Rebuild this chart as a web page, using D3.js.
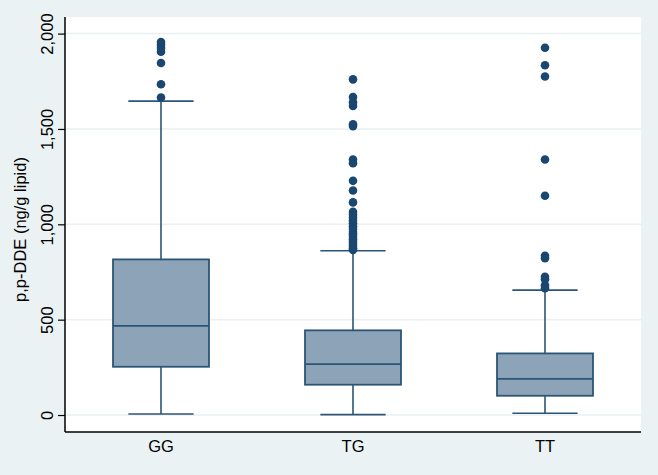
<!DOCTYPE html>
<html>
<head>
<meta charset="utf-8">
<script src="https://cdn.jsdelivr.net/npm/d3@7"></script>
<style>
  html, body { margin: 0; padding: 0; background: #eaf2f3; }
  svg { display: block; }
</style>
</head>
<body>
<svg id="chart" width="658" height="475"></svg>
<script>
const categories = ["GG", "TG", "TT"];
const q1 = [253, 159, 101];
const medians = [467, 267, 190];
const q3 = [816, 444, 323];
const whiskerLow = [5, 2, 9];
const whiskerHigh = [1646, 861, 655];
const outliersGG = [1956, 1940, 1925, 1905, 1846, 1734, 1665];
const outliersTG = [1760, 1667, 1640, 1620, 1525, 1515, 1340, 1320, 1228, 1177, 1115,
  1065, 1050, 1035, 1020, 1005, 990, 975, 960, 948, 935, 922, 910, 898, 886, 875, 866];
const outliersTT = [1926, 1834, 1775, 1340, 1150, 835, 822, 725, 712, 680, 665];
const outliers = [outliersGG, outliersTG, outliersTT];
const yTicks = [0, 500, 1000, 1500, 2000];
const yTitle = "p,p-DDE (ng/g lipid)";

const svg = d3.select("#chart");
const W = 658, H = 475;
const m = { left: 65, right: 17, top: 17, bottom: 43 };
const pw = W - m.left - m.right, ph = H - m.top - m.bottom;

const navy = "#1a476f";
const boxStroke = "#2b5577";
const boxFill = "#8da3b8";
const gridCol = "#e8f0f2";
const FONT = "'Liberation Sans', Arial, sans-serif";
const FS = 16.5;

svg.append("rect").attr("width", W).attr("height", H).attr("fill", "#eaf2f3");
const g = svg.append("g").attr("transform", `translate(${m.left},${m.top})`);
g.append("rect").attr("width", pw).attr("height", ph).attr("fill", "#ffffff");

const y = d3.scaleLinear().domain([-89, 2087]).range([ph, 0]);
const x = d3.scaleBand().domain(categories).range([0, pw]).paddingInner(0.5).paddingOuter(0.25);

// gridlines
g.append("g").selectAll("line").data(yTicks).join("line")
  .attr("x1", 0).attr("x2", pw)
  .attr("y1", d => y(d)).attr("y2", d => y(d))
  .attr("stroke", gridCol).attr("stroke-width", 1.5);

const data = categories.map((c, i) => ({
  c, q1: q1[i], med: medians[i], q3: q3[i], lo: whiskerLow[i], hi: whiskerHigh[i], out: outliers[i]
}));

const bw = x.bandwidth();
const capW = bw * 0.68;

const boxes = g.append("g").selectAll("g").data(data).join("g")
  .attr("transform", d => `translate(${x(d.c) + bw / 2},0)`);

// whiskers
boxes.append("line").attr("x1", 0).attr("x2", 0)
  .attr("y1", d => y(d.hi)).attr("y2", d => y(d.q3))
  .attr("stroke", boxStroke).attr("stroke-width", 1.6);
boxes.append("line").attr("x1", 0).attr("x2", 0)
  .attr("y1", d => y(d.q1)).attr("y2", d => y(d.lo))
  .attr("stroke", boxStroke).attr("stroke-width", 1.6);
boxes.append("line").attr("x1", -capW / 2).attr("x2", capW / 2)
  .attr("y1", d => y(d.hi)).attr("y2", d => y(d.hi))
  .attr("stroke", boxStroke).attr("stroke-width", 1.6);
boxes.append("line").attr("x1", -capW / 2).attr("x2", capW / 2)
  .attr("y1", d => y(d.lo)).attr("y2", d => y(d.lo))
  .attr("stroke", boxStroke).attr("stroke-width", 1.6);

// box
boxes.append("rect")
  .attr("x", -bw / 2).attr("width", bw)
  .attr("y", d => y(d.q3)).attr("height", d => y(d.q1) - y(d.q3))
  .attr("fill", boxFill).attr("stroke", boxStroke).attr("stroke-width", 1.8);
boxes.append("line").attr("x1", -bw / 2).attr("x2", bw / 2)
  .attr("y1", d => y(d.med)).attr("y2", d => y(d.med))
  .attr("stroke", boxStroke).attr("stroke-width", 1.8);

// outliers
boxes.selectAll("circle").data(d => d.out).join("circle")
  .attr("cx", 0).attr("cy", v => y(v)).attr("r", 4.3).attr("fill", navy);

// axes
const yAxis = d3.axisLeft(y).tickValues(yTicks).tickSize(7).tickPadding(4)
  .tickFormat(d3.format(","));
const ya = g.append("g").call(yAxis);
ya.attr("font-size", FS).attr("font-family", FONT);
ya.select(".domain").attr("stroke", "#000").attr("stroke-width", 1.5)
  .attr("d", `M0,0V${ph}`);
ya.selectAll(".tick line").attr("stroke", "#000").attr("stroke-width", 1.2);
ya.selectAll(".tick text")
  .style("font-size", FS + "px").style("font-family", FONT).attr("fill", "#000")
  .attr("text-anchor", "middle").attr("dy", null)
  .attr("transform", "translate(-18,0) rotate(-90)")
  .attr("x", 0).attr("y", 0).attr("dominant-baseline", "central");

const xAxis = d3.axisBottom(x).tickSize(0).tickPadding(8);
const xa = g.append("g").attr("transform", `translate(0,${ph})`).call(xAxis);
xa.attr("font-size", FS).attr("font-family", FONT);
xa.select(".domain").attr("stroke", "#000").attr("stroke-width", 1.5).attr("d", `M0,0H${pw}`);
xa.selectAll(".tick text")
  .style("font-size", FS + "px").style("font-family", FONT).attr("fill", "#000");

// y title
svg.append("text")
  .attr("transform", `translate(20,${m.top + ph / 2 + 5}) rotate(-90)`)
  .attr("text-anchor", "middle").attr("dominant-baseline", "central")
  .style("font-family", FONT).style("font-size", FS + "px").attr("fill", "#000")
  .text(yTitle);
</script>
</body>
</html>
